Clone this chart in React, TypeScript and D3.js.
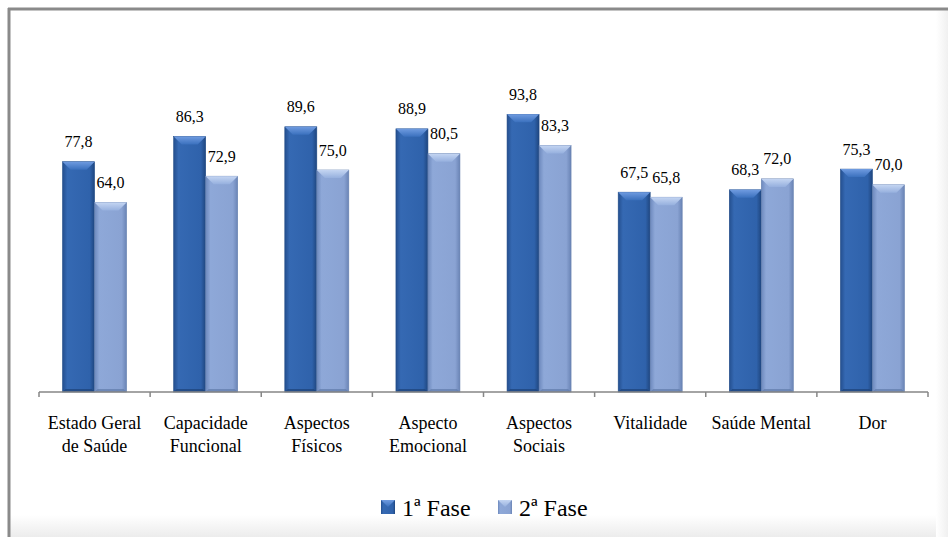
import React from 'react';
import { scaleBand, scaleLinear } from 'd3';

const categories = [
  ['Estado Geral', 'de Saúde'],
  ['Capacidade', 'Funcional'],
  ['Aspectos', 'Físicos'],
  ['Aspecto', 'Emocional'],
  ['Aspectos', 'Sociais'],
  ['Vitalidade'],
  ['Saúde Mental'],
  ['Dor'],
];
const fase1 = [77.8, 86.3, 89.6, 88.9, 93.8, 67.5, 68.3, 75.3];
const fase2 = [64.0, 72.9, 75.0, 80.5, 83.3, 65.8, 72.0, 70.0];
const seriesNames = ['1ª Fase', '2ª Fase'];

const W = 948;
const H = 537;
const font = 'Liberation Serif';

const fmt = (v: number) => v.toFixed(1).replace('.', ',');

export default function App() {
  const x = scaleBand<number>()
    .domain(categories.map((_, i) => i))
    .range([39, 928]);
  const bw = 32;
  const y = scaleLinear().domain([0, 100]).range([392, 96]);
  const series = [fase1, fase2];

  return (
    <div style={{ position: 'absolute', left: 0, top: 0 }}>
      <svg width={W} height={H} style={{ display: 'block' }}>
        <defs>
          <linearGradient id="g1" x1="0" x2="1" y1="0" y2="0">
            <stop offset="0%" stopColor="#244f8f" />
            <stop offset="15%" stopColor="#3569b3" />
            <stop offset="85%" stopColor="#2f62ab" />
            <stop offset="100%" stopColor="#1f467f" />
          </linearGradient>
          <linearGradient id="g2" x1="0" x2="1" y1="0" y2="0">
            <stop offset="0%" stopColor="#6d89bd" />
            <stop offset="15%" stopColor="#8ea8d8" />
            <stop offset="85%" stopColor="#8aa3d3" />
            <stop offset="100%" stopColor="#6a84b5" />
          </linearGradient>
          <linearGradient id="bev1" x1="0" x2="0" y1="0" y2="1">
            <stop offset="0%" stopColor="#6f9be0" />
            <stop offset="100%" stopColor="#3a70bd" />
          </linearGradient>
          <linearGradient id="bev2" x1="0" x2="0" y1="0" y2="1">
            <stop offset="0%" stopColor="#c4d5f2" />
            <stop offset="100%" stopColor="#96b0de" />
          </linearGradient>
          <linearGradient id="shadowB" x1="0" x2="0" y1="0" y2="1">
            <stop offset="0%" stopColor="#ffffff" />
            <stop offset="100%" stopColor="#ececec" />
          </linearGradient>
          <linearGradient id="shadowR" x1="0" x2="1" y1="0" y2="0">
            <stop offset="0%" stopColor="#ffffff" />
            <stop offset="100%" stopColor="#f0f0f0" />
          </linearGradient>
        </defs>
        <rect x={0} y={0} width={W} height={H} fill="#ffffff" />
        {/* frame shadow */}
        <rect x={10} y={515} width={938} height={22} fill="url(#shadowB)" />
        <rect x={936} y={10} width={12} height={527} fill="url(#shadowR)" />
        {/* frame border top/left */}
        <line x1={8} y1={9} x2={948} y2={9} stroke="#8a8a8a" strokeWidth={3} />
        <line x1={9} y1={8} x2={9} y2={537} stroke="#8a8a8a" strokeWidth={3} />

        {/* bars */}
        {series.map((vals, s) =>
          vals.map((v, i) => {
            const bx = x(i)! + x.bandwidth() / 2 - bw + s * bw;
            const by = y(v);
            const bh = y(0) - by;
            const bev = 8;
            return (
              <g key={`${s}-${i}`}>
                <rect x={bx} y={by} width={bw} height={bh} fill={`url(#g${s + 1})`} stroke={s === 0 ? '#1f4a86' : '#6580b0'} strokeWidth={0.6} />
                <polygon
                  points={`${bx},${by} ${bx + bw},${by} ${bx + bw - bev},${by + bev} ${bx + bev},${by + bev}`}
                  fill={`url(#bev${s + 1})`}
                />
                <polygon
                  points={`${bx},${by + bh} ${bx + bw},${by + bh} ${bx + bw - 3},${by + bh - 3} ${bx + 3},${by + bh - 3}`}
                  fill={s === 0 ? '#1d4278' : '#607aa9'}
                  opacity={0.7}
                />
                <text
                  x={bx + bw / 2}
                  y={by - 14.5}
                  textAnchor="middle"
                  fontFamily={font}
                  fontSize={16}
                  fill="#000"
                >
                  {fmt(v)}
                </text>
              </g>
            );
          })
        )}

        {/* axis */}
        <line x1={39} y1={y(0)} x2={928} y2={y(0)} stroke="#868686" strokeWidth={1.5} />
        {categories.map((_, i) => (
          <line key={i} x1={x(i)!} x2={x(i)!} y1={y(0)} y2={y(0) + 5} stroke="#868686" strokeWidth={1.5} />
        ))}
        <line x1={928} x2={928} y1={y(0)} y2={y(0) + 5} stroke="#868686" strokeWidth={1.5} />
        {categories.map((lines, i) => (
          <text key={i} textAnchor="middle" fontFamily={font} fontSize={18} fill="#000">
            {lines.map((l, j) => (
              <tspan key={j} x={x(i)! + x.bandwidth() / 2} y={429 + j * 22.5}>
                {l}
              </tspan>
            ))}
          </text>
        ))}

        {/* legend */}
        {seriesNames.map((name, s) => {
          const lx = 381 + s * 117;
          return (
            <g key={name}>
              <rect x={lx} y={500} width={14} height={14} fill={`url(#g${s + 1})`} />
              <polygon
                points={`${lx},${500} ${lx + 14},${500} ${lx + 7},${507}`}
                fill={`url(#bev${s + 1})`}
              />
              <text x={lx + 21} y={516} fontFamily={font} fontSize={24} fill="#000">
                {name}
              </text>
            </g>
          );
        })}
      </svg>
    </div>
  );
}
